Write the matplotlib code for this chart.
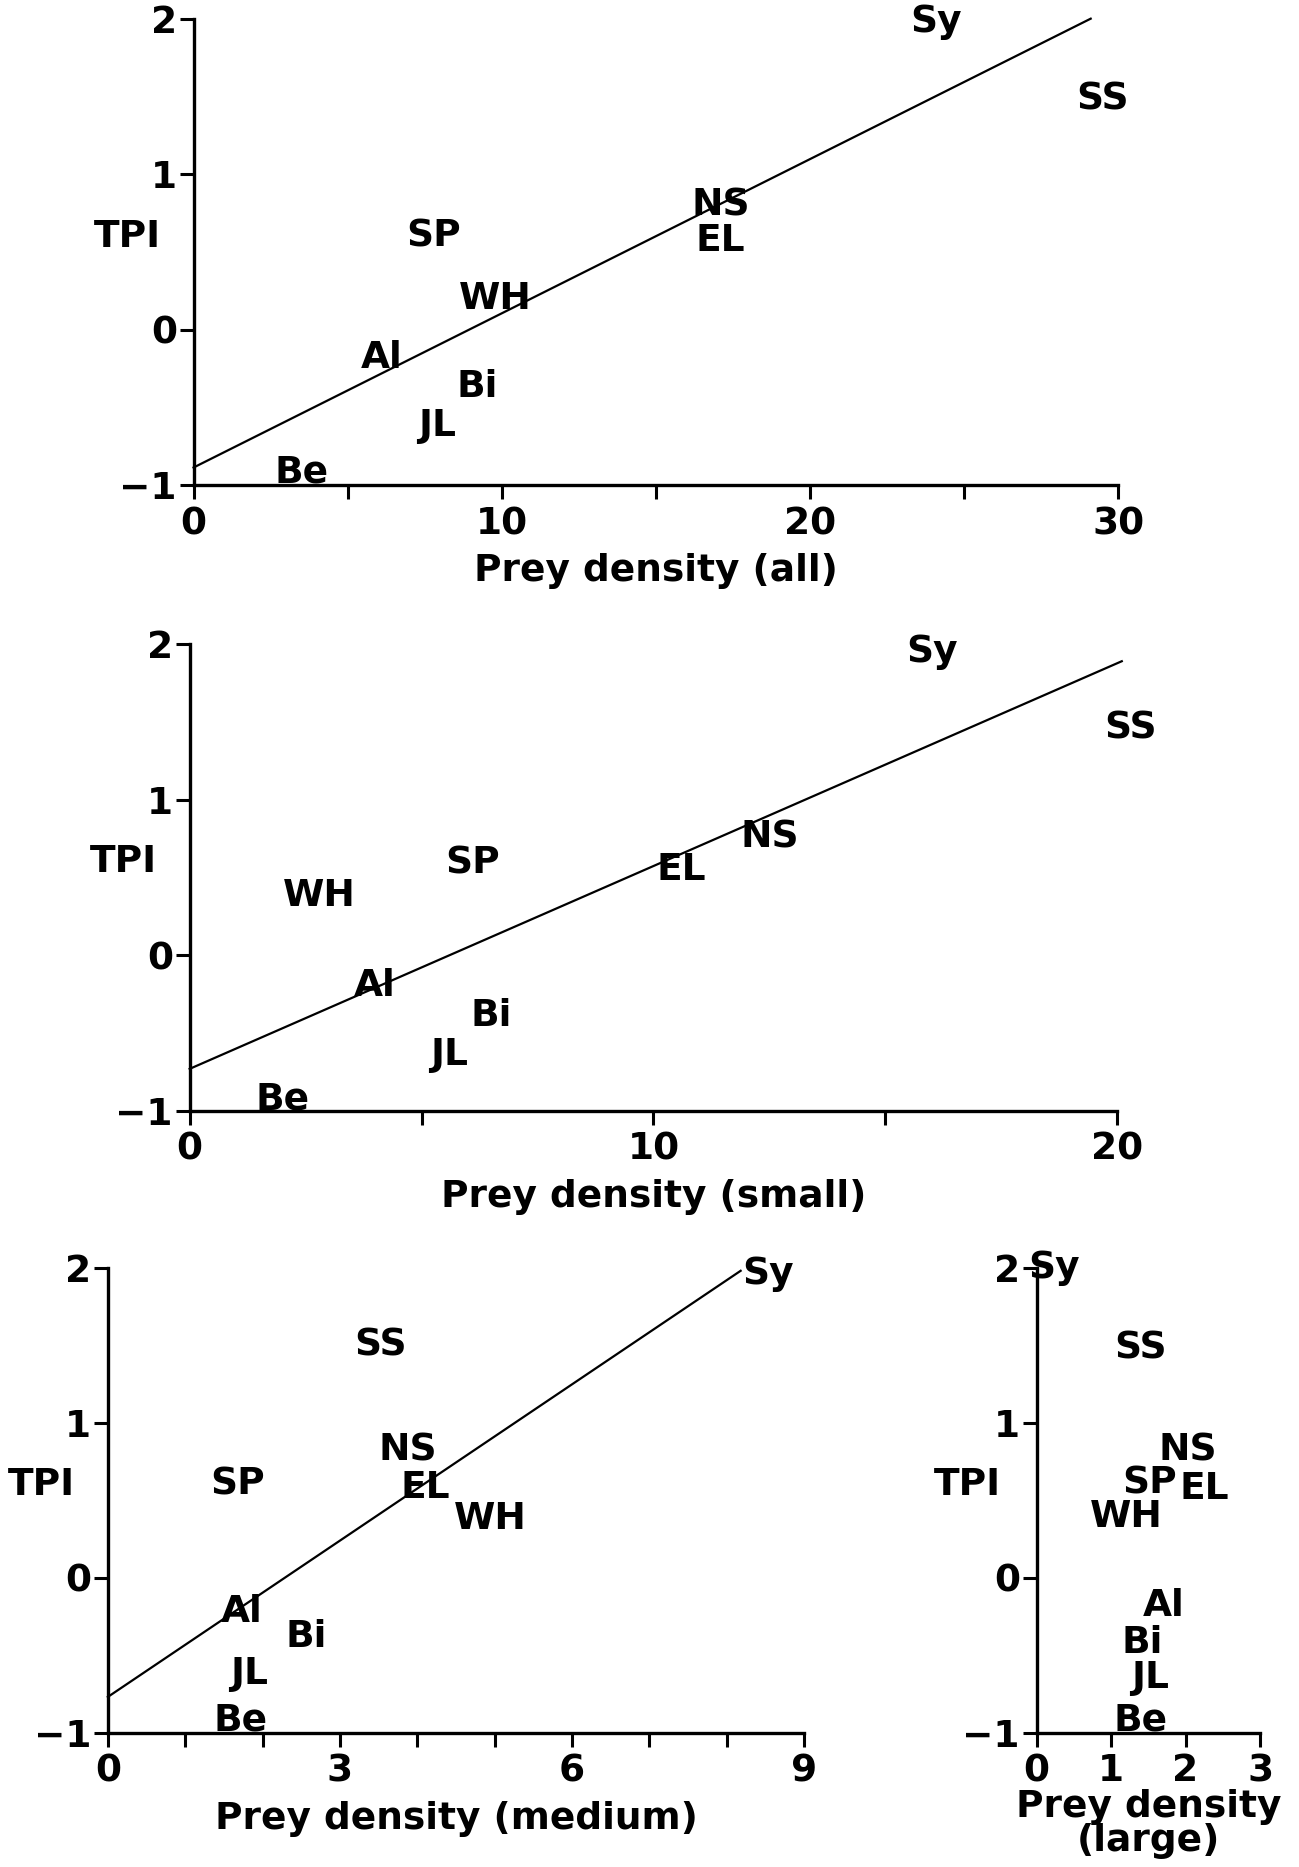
import matplotlib
matplotlib.use("Agg")
import matplotlib.pyplot as plt

plt.rcParams['font.family'] = ['DejaVu Sans']
plt.rcParams['font.weight'] = 'bold'

# site codes, same order in every panel
sites = ['Sy', 'SS', 'NS', 'EL', 'SP', 'WH', 'Al', 'Bi', 'JL', 'Be']

# prey density per site, one list per prey size class
dens_all = [24.1, 29.5, 17.1, 17.1, 7.8, 9.8, 6.1, 9.2, 7.9, 3.5]
dens_small = [16.0, 20.3, 12.5, 10.6, 6.1, 2.8, 4.0, 6.5, 5.6, 2.0]
dens_medium = [8.54, 3.53, 3.88, 4.10, 1.68, 4.95, 1.73, 2.57, 1.82, 1.71]
dens_large = [0.24, 1.39, 2.03, 2.25, 1.52, 1.21, 1.71, 1.42, 1.52, 1.39]

# TPI per site for each panel
tpi_all = [1.98, 1.48, 0.80, 0.57, 0.60, 0.20, -0.18, -0.37, -0.62, -0.92]
tpi_small = [1.95, 1.46, 0.76, 0.55, 0.59, 0.38, -0.20, -0.39, -0.64, -0.93]
tpi_medium = [1.96, 1.50, 0.82, 0.58, 0.60, 0.38, -0.22, -0.38, -0.62, -0.92]
tpi_large = [2.00, 1.48, 0.82, 0.57, 0.61, 0.39, -0.18, -0.42, -0.65, -0.92]

# fitted lines: intercept, end x, end y  (none for large prey)
fit_all = [-0.885, 29.1, 2.0]
fit_small = [-0.73, 20.1, 1.89]
fit_medium = [-0.77, 8.18, 1.98]

xlabels = ['Prey density (all)', 'Prey density (small)',
           'Prey density (medium)', 'Prey density\n(large)']

fig = plt.figure(figsize=(12.99, 18.67), dpi=100)

FS = 27


def panel(rect, xs, ys, fit, xmax, major, minor, xlabel, tpi_x, lpad=8):
    ax = fig.add_axes(rect)
    ax.set_xlim(0, xmax)
    ax.set_ylim(-1, 2)
    for s in ['top', 'right']:
        ax.spines[s].set_visible(False)
    for s in ['left', 'bottom']:
        ax.spines[s].set_linewidth(2.4)
    ax.set_yticks([-1, 0, 1, 2])
    ax.set_yticklabels(['\u22121', '0', '1', '2'])
    ax.set_xticks(major)
    ax.set_xticks(minor, minor=True)
    ax.tick_params(axis='both', which='both', direction='out', width=2.2,
                   length=10, labelsize=FS, pad=2)
    ax.tick_params(axis='x', which='major', pad=5)
    for name, x, y in zip(sites, xs, ys):
        ax.text(x, y, name, ha='center', va='center', fontsize=FS,
                fontweight='bold', clip_on=False)
    if fit is not None:
        ax.plot([0, fit[1]], [fit[0], fit[2]], color='black', lw=1.6,
                clip_on=False)
    ax.set_xlabel(xlabel, fontsize=FS, fontweight='bold', labelpad=lpad,
                  linespacing=0.9)
    ax.set_ylabel('TPI', fontsize=FS, fontweight='bold', rotation=0,
                  ha='center', va='center')
    ax.yaxis.set_label_coords(tpi_x, 0.533)
    return ax


panel([0.149, 0.740, 0.712, 0.250], dens_all, tpi_all, fit_all, 30,
      [0, 10, 20, 30], [5, 15, 25], xlabels[0], -0.072)
panel([0.146, 0.405, 0.714, 0.250], dens_small, tpi_small, fit_small, 20,
      [0, 10, 20], [5, 15], xlabels[1], -0.071)
panel([0.083, 0.072, 0.536, 0.249], dens_medium, tpi_medium, fit_medium, 9,
      [0, 3, 6, 9], [1, 2, 4, 5, 7, 8], xlabels[2], -0.095)
panel([0.798, 0.072, 0.172, 0.249], dens_large, tpi_large, None, 3,
      [0, 1, 2, 3], [], xlabels[3], -0.31, lpad=0)

fig.savefig('out.png', dpi=100)
